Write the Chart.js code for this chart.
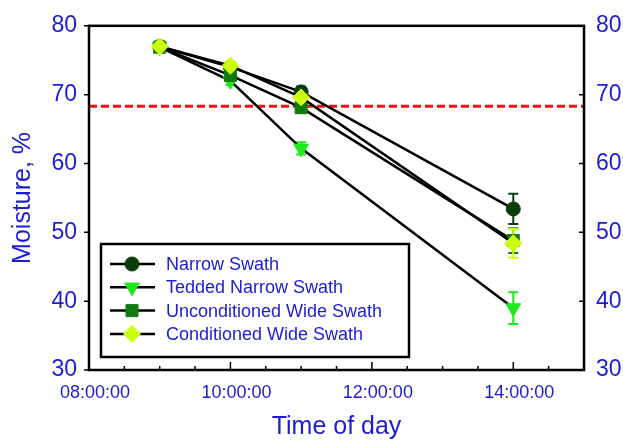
<!DOCTYPE html>
<html>
<head>
<meta charset="utf-8">
<script src="https://cdn.jsdelivr.net/npm/chart.js@4.4.1/dist/chart.umd.min.js"></script>
<style>
  body { margin: 0; background: #fff; }
  #wrap { width: 623px; height: 442px; }
</style>
</head>
<body>
<div id="wrap"><canvas id="moistureChart" width="623" height="442"></canvas></div>
<script>
// time of day in hours
const sampleTimes = [9, 10, 11, 14];

const narrowSwath = [77.0, 74.0, 70.4, 53.4];
const narrowSwathErr = [0.4, 0.5, 0.8, 2.2];

const teddedNarrow = [76.9, 72.0, 62.2, 39.0];
const teddedNarrowErr = [0.4, 0.6, 0.9, 2.3];

const uncondWide = [76.9, 72.8, 68.1, 48.8];
const uncondWideErr = [0.4, 0.6, 0.7, 1.8];

const condWide = [77.0, 74.2, 69.6, 48.4];
const condWideErr = [0.4, 0.6, 0.8, 2.1];

const thresholdLevel = 68.3;

const xTickValues = [8, 10, 12, 14];
const xTickLabels = ['08:00:00', '10:00:00', '12:00:00', '14:00:00'];
const yTickValues = [30, 40, 50, 60, 70, 80];

const blue = '#1c1cd2';
const font = 'Arial, "Liberation Sans", sans-serif';

function pts(ys) {
    return sampleTimes.map((t, i) => ({ x: t, y: ys[i] }));
}

const seriesDefs = [
    { label: 'Narrow Swath', data: narrowSwath, err: narrowSwathErr, color: '#0b3d0b', style: 'circle', radius: 7, rotation: 0, order: 3 },
    { label: 'Tedded Narrow Swath', data: teddedNarrow, err: teddedNarrowErr, color: '#1ee81e', style: 'triangle', radius: 8.5, rotation: 180, order: 2 },
    { label: 'Unconditioned Wide Swath', data: uncondWide, err: uncondWideErr, color: '#117a11', style: 'rect', radius: 8.5, rotation: 0, order: 1 },
    { label: 'Conditioned Wide Swath', data: condWide, err: condWideErr, color: '#ccff0f', style: 'rectRot', radius: 8.5, rotation: 0, order: 0 }
];

const datasets = seriesDefs.map(s => ({
    label: s.label,
    data: pts(s.data),
    errors: s.err,
    borderColor: '#000',
    borderWidth: 2.5,
    backgroundColor: s.color,
    pointBackgroundColor: s.color,
    pointBorderColor: s.color,
    pointBorderWidth: 1,
    pointStyle: s.style,
    pointRadius: s.radius,
    pointRotation: s.rotation,
    order: s.order,
    tension: 0,
    inLegend: true
}));

// red dashed reference line
datasets.push({
    label: 'threshold',
    data: [{ x: 8, y: thresholdLevel }, { x: 15, y: thresholdLevel }],
    borderColor: '#ee1111',
    borderWidth: 3,
    borderDash: [8, 4],
    pointRadius: 0,
    order: 5,
    inLegend: false
});

// error bars drawn under the markers
const errorBars = {
    id: 'errorBars',
    beforeDatasetsDraw(chart) {
        const ctx = chart.ctx;
        const xs = chart.scales.x, ys = chart.scales.y;
        chart.data.datasets.forEach(ds => {
            if (!ds.errors) return;
            ctx.save();
            ctx.strokeStyle = ds.pointBackgroundColor;
            ctx.lineWidth = 2;
            ds.data.forEach((p, i) => {
                const e = ds.errors[i];
                const px = xs.getPixelForValue(p.x);
                const top = ys.getPixelForValue(p.y + e);
                const bot = ys.getPixelForValue(p.y - e);
                ctx.beginPath();
                ctx.moveTo(px, top); ctx.lineTo(px, bot);
                ctx.moveTo(px - 5, top); ctx.lineTo(px + 5, top);
                ctx.moveTo(px - 5, bot); ctx.lineTo(px + 5, bot);
                ctx.stroke();
            });
            ctx.restore();
        });
    }
};

// frame, tick marks and legend box
const frameAndLegend = {
    id: 'frameAndLegend',
    afterDraw(chart) {
        const ctx = chart.ctx;
        const a = chart.chartArea;
        const xs = chart.scales.x, ys = chart.scales.y;
        ctx.save();
        ctx.strokeStyle = '#000';
        ctx.lineWidth = 2.5;
        ctx.strokeRect(a.left, a.top, a.right - a.left, a.bottom - a.top);

        ctx.lineWidth = 1.5;
        ctx.beginPath();
        for (let h = 8.5; h < 15; h += 0.5) {
            const px = xs.getPixelForValue(h);
            const len = (h % 2 === 0) ? 8 : 4;
            ctx.moveTo(px, a.bottom); ctx.lineTo(px, a.bottom - len);
        }
        yTickValues.forEach(v => {
            const py = ys.getPixelForValue(v);
            ctx.moveTo(a.left - 5, py); ctx.lineTo(a.left, py);
            ctx.moveTo(a.right, py); ctx.lineTo(a.right - 5, py);
        });
        ctx.stroke();

        // legend
        const items = chart.data.datasets.filter(d => d.inLegend);
        const bx = a.left + 12, by = a.bottom - 126;
        const bw = 308, bh = 113;
        ctx.lineWidth = 2.5;
        ctx.strokeRect(bx, by, bw, bh);
        ctx.font = '18px ' + font;
        ctx.textBaseline = 'middle';
        items.forEach((d, i) => {
            const cy = by + 20 + i * 23.3;
            ctx.strokeStyle = '#000';
            ctx.lineWidth = 2.5;
            ctx.beginPath();
            ctx.moveTo(bx + 9, cy); ctx.lineTo(bx + 54, cy);
            ctx.stroke();
            ctx.fillStyle = d.pointBackgroundColor;
            ctx.strokeStyle = d.pointBackgroundColor;
            ctx.lineWidth = 1;
            Chart.helpers.drawPoint(ctx, {
                pointStyle: d.pointStyle,
                rotation: d.pointRotation,
                radius: d.pointRadius,
                borderWidth: 1
            }, bx + 31, cy);
            ctx.fillStyle = blue;
            ctx.fillText(d.label, bx + 65, cy + 1);
        });
        ctx.restore();
    }
};

const yTicks = {
    color: blue,
    font: { family: font, size: 23 },
    padding: 12,
    autoSkip: false
};

new Chart(document.getElementById('moistureChart').getContext('2d'), {
    type: 'line',
    data: { datasets: datasets },
    options: {
        responsive: false,
        devicePixelRatio: 1,
        animation: false,
        layout: { padding: { top: 23, left: 0, right: 0, bottom: 0 } },
        plugins: { legend: { display: false }, tooltip: { enabled: false } },
        scales: {
            x: {
                type: 'linear',
                min: 8,
                max: 15,
                grid: { display: false, drawTicks: false },
                border: { display: false },
                afterBuildTicks: s => { s.ticks = xTickValues.map(v => ({ value: v })); },
                afterFit: s => { s.height = 72; },
                ticks: {
                    color: blue,
                    font: { family: font, size: 18 },
                    padding: 12,
                    labelOffset: 6,
                    maxRotation: 0,
                    autoSkip: false,
                    callback: v => xTickLabels[xTickValues.indexOf(v)]
                },
                title: {
                    display: true,
                    text: 'Time of day',
                    color: blue,
                    font: { family: font, size: 25 },
                    padding: { top: 0, bottom: 0 }
                }
            },
            y: {
                position: 'left',
                min: 30,
                max: 80,
                grid: { display: false, drawTicks: false },
                border: { display: false },
                afterBuildTicks: s => { s.ticks = yTickValues.map(v => ({ value: v })); },
                afterFit: s => { s.width = 89; },
                ticks: yTicks,
                title: {
                    display: true,
                    text: 'Moisture, %',
                    color: blue,
                    font: { family: font, size: 25 },
                    padding: { top: 8, bottom: 0 }
                }
            },
            y2: {
                position: 'right',
                min: 30,
                max: 80,
                grid: { display: false, drawTicks: false },
                border: { display: false },
                afterBuildTicks: s => { s.ticks = yTickValues.map(v => ({ value: v })); },
                afterFit: s => { s.width = 39; },
                ticks: yTicks
            }
        }
    },
    plugins: [errorBars, frameAndLegend]
});
</script>
</body>
</html>
